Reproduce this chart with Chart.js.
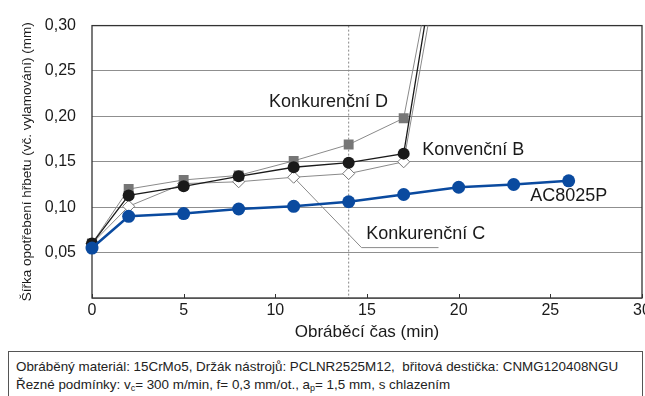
<!DOCTYPE html>
<html>
<head>
<meta charset="utf-8">
<script src="https://cdn.jsdelivr.net/npm/chart.js@4.4.1/dist/chart.umd.min.js"></script>
<style>
  html, body { margin: 0; padding: 0; background: #fff; overflow: hidden; }
  #wrap { position: relative; width: 645px; height: 396px; overflow: hidden; }
  #chart { position: absolute; left: 0; top: 0; }
  .note {
    position: absolute; left: 8px; top: 351px; width: 635px; height: 70px;
    border: 1px solid #555; box-sizing: border-box;
    padding: 6px 0 0 7px;
    font-family: "Liberation Sans", Arial, sans-serif;
    font-size: 13.4px; line-height: 18px; color: #222; white-space: nowrap;
  }
  .note sub { font-size: 9px; vertical-align: -2px; line-height: 0; }
</style>
</head>
<body>
<div id="wrap">
  <canvas id="chart" width="665" height="345"></canvas>
  <div class="note">
    Obráběný materiál: 15CrMo5, Držák nástrojů: PCLNR2525M12,&nbsp; břitová destička: CNMG120408NGU<br>
    Řezné podmínky: v<sub>c</sub>= 300 m/min, f= 0,3 mm/ot., a<sub>p</sub>= 1,5 mm, s chlazením
  </div>
</div>
<script>
// machining time (min)
let timeAC = [0, 2, 5, 8, 11, 14, 17, 20, 23, 26];
let timeRival = [0, 2, 5, 8, 11, 14, 17, 20];

// flank wear width (mm)
let ac8025p = [0.055, 0.090, 0.093, 0.098, 0.101, 0.106, 0.114, 0.122, 0.125, 0.129];
let konvencniB = [0.060, 0.113, 0.123, 0.134, 0.144, 0.149, 0.159, 0.53];
let konkurencniD = [0.060, 0.120, 0.130, 0.135, 0.151, 0.169, 0.198, 0.515];
let konkurencniC = [0.060, 0.101, 0.126, 0.128, 0.133, 0.137, 0.150, 0.49];

// leader line of the "Konkurenční C" label
let leaderX = [11, 14.7, 18.9];
let leaderY = [0.133, 0.0555, 0.0555];

let xTicks = [0, 5, 10, 15, 20, 25, 30];
let yTicks = [0, 0.05, 0.10, 0.15, 0.20, 0.25, 0.30];
let yTickLabels = ["", "0,05", "0,10", "0,15", "0,20", "0,25", "0,30"];

let markTime = 14;

let labels = [
  { text: "Konkurenční D", x: 12.9, y: 0.216 },
  { text: "Konvenční B", x: 20.8, y: 0.163 },
  { text: "AC8025P", x: 26.0, y: 0.112 },
  { text: "Konkurenční C", x: 18.2, y: 0.0705 },
];

const FONT = "'Liberation Sans', Arial, sans-serif";

function points(xs, ys) {
  return ys.map((y, i) => ({ x: xs[i], y: y }));
}

// last rival point only gives the steep rise, no marker
function radii(n, r) {
  let arr = new Array(n).fill(r);
  arr[n - 1] = 0;
  return arr;
}

let frame = {
  id: "frame",
  beforeDatasetsDraw(chart) {
    let { ctx, chartArea: a, scales } = chart;
    ctx.save();

    // dotted line at 14 min
    let px = scales.x.getPixelForValue(markTime);
    ctx.strokeStyle = "#888";
    ctx.lineWidth = 1;
    ctx.setLineDash([2, 2]);
    ctx.beginPath();
    ctx.moveTo(px, a.top);
    ctx.lineTo(px, a.bottom);
    ctx.stroke();
    ctx.setLineDash([]);

    // inward ticks on the time axis
    ctx.strokeStyle = "#333";
    xTicks.forEach((t) => {
      let x = Math.round(scales.x.getPixelForValue(t)) + 0.5;
      ctx.beginPath();
      ctx.moveTo(x, a.bottom);
      ctx.lineTo(x, a.bottom - 4);
      ctx.stroke();
    });

    // box round the plot
    ctx.strokeStyle = "#333";
    ctx.lineWidth = 1.3;
    ctx.strokeRect(a.left, a.top, a.right - a.left, a.bottom - a.top);
    ctx.restore();
  },
  afterDatasetsDraw(chart) {
    let { ctx, scales } = chart;
    ctx.save();
    ctx.fillStyle = "#1a1a1a";
    ctx.font = "18px " + FONT;
    ctx.textAlign = "center";
    ctx.textBaseline = "middle";
    labels.forEach((l) => {
      ctx.fillText(l.text, scales.x.getPixelForValue(l.x), scales.y.getPixelForValue(l.y));
    });
    ctx.restore();
  },
};

let clip = { left: 10, right: 10, top: 0, bottom: 10 };

new Chart(document.getElementById("chart"), {
  type: "line",
  data: {
    datasets: [
      {
        label: "AC8025P",
        data: points(timeAC, ac8025p),
        borderColor: "#0a4a9f",
        backgroundColor: "#0a4a9f",
        borderWidth: 2.5,
        pointRadius: 6.5,
        pointBorderWidth: 0,
        clip: clip,
      },
      {
        label: "Konvenční B",
        data: points(timeRival, konvencniB),
        borderColor: "#1a1a1a",
        backgroundColor: "#1a1a1a",
        borderWidth: 1.3,
        pointRadius: radii(konvencniB.length, 6),
        pointBorderWidth: 0,
        clip: clip,
      },
      {
        label: "Konkurenční D",
        data: points(timeRival, konkurencniD),
        borderColor: "#8a8a8a",
        backgroundColor: "#767676",
        borderWidth: 1,
        pointStyle: "rect",
        pointRadius: radii(konkurencniD.length, 7),
        pointBorderWidth: 0,
        clip: clip,
      },
      {
        label: "Konkurenční C",
        data: points(timeRival, konkurencniC),
        borderColor: "#8a8a8a",
        backgroundColor: "#ffffff",
        borderWidth: 1,
        pointStyle: "rectRot",
        pointRadius: radii(konkurencniC.length, 6),
        pointBorderColor: "#777",
        pointBorderWidth: 1,
        clip: clip,
      },
      {
        label: "leader",
        data: points(leaderX, leaderY),
        borderColor: "#8a8a8a",
        borderWidth: 1,
        pointRadius: 0,
        clip: clip,
      },
    ],
  },
  options: {
    responsive: false,
    animation: false,
    events: [],
    layout: { padding: { top: 17, right: 23, bottom: 0, left: 0 } },
    plugins: { legend: { display: false }, tooltip: { enabled: false } },
    scales: {
      x: {
        type: "linear",
        min: 0,
        max: 30,
        afterBuildTicks: (s) => { s.ticks = xTicks.map((v) => ({ value: v })); },
        afterFit: (s) => { s.height = 47; },
        grid: { display: false, drawTicks: false },
        border: { display: false },
        ticks: { padding: 3, color: "#1a1a1a", font: { family: FONT, size: 16 } },
        title: {
          display: true,
          text: "Obráběcí čas (min)",
          color: "#1a1a1a",
          font: { family: FONT, size: 17 },
          padding: { top: 0, bottom: 2 },
        },
      },
      y: {
        min: 0,
        max: 0.3,
        afterBuildTicks: (s) => { s.ticks = yTicks.map((v) => ({ value: v })); },
        afterFit: (s) => { s.width = 92; },
        grid: { color: "#8f8f8f", lineWidth: 1, drawTicks: false },
        border: { display: false },
        ticks: {
          padding: 16,
          color: "#1a1a1a",
          font: { family: FONT, size: 16 },
          callback: (v) => yTickLabels[yTicks.findIndex((t) => Math.abs(t - v) < 1e-6)] || "",
        },
        title: {
          display: true,
          text: "Šířka opotřebení hřbetu (vč. vylamování) (mm)",
          color: "#1a1a1a",
          font: { family: FONT, size: 13.5 },
          padding: { top: 19, bottom: 0 },
        },
      },
    },
  },
  plugins: [frame],
});
</script>
</body>
</html>
